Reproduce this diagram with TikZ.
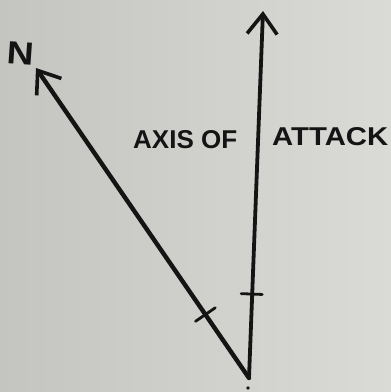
\documentclass[tikz,border=0pt]{standalone}
\usepackage{fontspec}
\setmainfont{Liberation Sans}
\usetikzlibrary{arrows.meta,calc}
\definecolor{paper}{RGB}{196,196,193}
\definecolor{paperlight}{RGB}{218,218,215}
\definecolor{ink}{RGB}{20,20,20}
\tikzset{
  vector/.style={draw=ink, line width=4.4pt, line cap=round,
    -{Straight Barb[length=20pt, width=30pt, line width=3.6pt]}},
  tickmark/.style={draw=ink, line width=2.8pt, line cap=round},
  lbl/.style={text=ink, inner sep=0pt, font=\bfseries}
}
\begin{document}
\begin{tikzpicture}[x=1pt,y=-1pt]
  \useasboundingbox (0,0) rectangle (391,392);
  \shade[left color=paper, right color=paperlight] (0,0) rectangle (391,392);
  \coordinate (O) at (249,378);
  \coordinate (Ntip) at (36,68);
  \coordinate (Atip) at (263,11);
  \draw[vector] (O) -- (Ntip);
  \draw[vector, line width=3.8pt] (O) -- (Atip);
  % tick marks
  \coordinate (t1) at ($(O)!77pt!(Ntip)$);
  \draw[tickmark] ($(t1)!12pt!90:(Ntip)$) -- ($(t1)!12pt!-90:(Ntip)$);
  \coordinate (t2) at ($(O)!84pt!(Atip)$);
  \draw[tickmark] ($(t2)!11pt!90:(Atip)$) -- ($(t2)!10pt!-90:(Atip)$);
  % dot under vertex
  \fill[ink] (248,388) circle (1.8pt);
  % labels
  \node[lbl, anchor=north west, rotate=-4] (nlab) at (8,41) {\resizebox{27pt}{22pt}{N}};
  \node[lbl, anchor=north west] (axis) at (133,130) {\resizebox{104pt}{18pt}{AXIS OF}};
  \node[lbl, anchor=north west] (attack) at (272,127) {\resizebox{116pt}{18pt}{ATTACK}};
\end{tikzpicture}
\end{document}
